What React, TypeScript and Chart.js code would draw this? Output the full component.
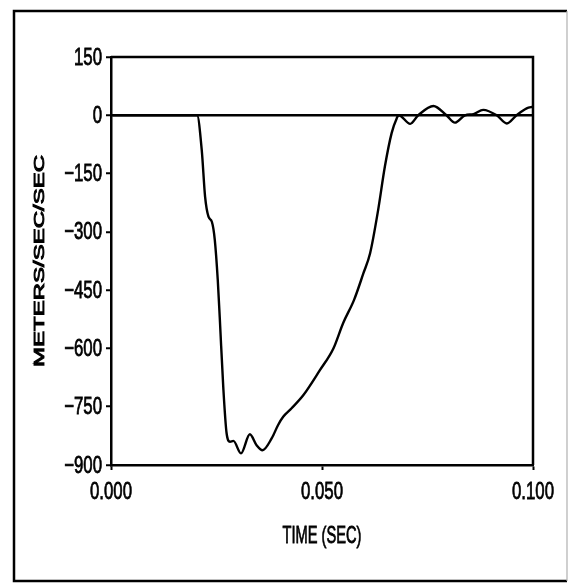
import React, { useEffect, useRef } from 'react';
import { Chart, registerables } from 'chart.js';

Chart.register(...registerables);

// Time (seconds)
const timeSec = [
  0, 0.0204, 0.0215, 0.0223, 0.0231, 0.0239, 0.0246, 0.0253, 0.0258, 0.0266,
  0.0274, 0.0282, 0.029, 0.0308, 0.0329, 0.0345, 0.0359, 0.0381, 0.0396, 0.0408,
  0.0428, 0.0456, 0.0495, 0.0527, 0.055, 0.0576, 0.0598, 0.0614, 0.0633, 0.0649,
  0.0665, 0.0677, 0.0682, 0.0709, 0.0728, 0.0764, 0.0795, 0.0815, 0.0839, 0.0859,
  0.0882, 0.0914, 0.0938, 0.0961, 0.0985, 0.1,
];

// Acceleration (meters/sec/sec)
const accel = [
  0, 0, -89, -210, -261, -274, -321, -424, -527, -699,
  -819, -840, -838, -870, -821, -849, -862, -831, -797, -776,
  -754, -720, -656, -600, -535, -475, -407, -355, -244, -132,
  -46, -8, 0, -22, 0, 24, 0, -19, 0, 3,
  14, 0, -21, 0, 18, 22,
];

const yTicks = [150, 0, -150, -300, -450, -600, -750, -900];
const yTickLabels = ['150', '0', '\u2212150', '\u2212300', '\u2212450', '\u2212600', '\u2212750', '\u2212900'];
const xTicks = [0, 0.05, 0.1];
const xTickLabels = ['0.000', '0.050', '0.100'];
const xTitle = 'TIME (SEC)';
const yTitle = 'METERS/SEC/SEC';

const SANS = "'Liberation Sans', Arial, sans-serif";

function drawText(ctx: any, text: string, x: number, y: number, sx: number, weight: number) {
  ctx.save();
  ctx.translate(x, y);
  ctx.scale(sx, 1);
  ctx.fillText(text, 0, 0);
  if (weight > 0) {
    ctx.lineWidth = weight;
    ctx.strokeStyle = '#000';
    ctx.strokeText(text, 0, 0);
  }
  ctx.restore();
}

const decorPlugin = {
  id: 'decor',
  afterDraw(chart: any) {
    const { ctx, chartArea, scales } = chart;
    ctx.save();
    // plot frame (top/right)
    ctx.strokeStyle = '#000';
    ctx.lineWidth = 2.5;
    ctx.beginPath();
    ctx.moveTo(chartArea.left, chartArea.top);
    ctx.lineTo(chartArea.right, chartArea.top);
    ctx.lineTo(chartArea.right, chartArea.bottom);
    ctx.stroke();

    // outer frame
    ctx.lineWidth = 2.5;
    ctx.beginPath();
    ctx.moveTo(567, 11);
    ctx.lineTo(14, 11);
    ctx.lineTo(14, 581);
    ctx.lineTo(567, 581);
    ctx.stroke();
    ctx.strokeStyle = '#b0b0b0';
    ctx.lineWidth = 1.2;
    ctx.beginPath();
    ctx.moveTo(567, 11);
    ctx.lineTo(567, 581);
    ctx.stroke();

    ctx.fillStyle = '#000';
    ctx.textBaseline = 'middle';
    ctx.font = `24px ${SANS}`;

    // y tick labels (condensed)
    ctx.textAlign = 'right';
    yTicks.forEach((v, i) => {
      const py = scales.y.getPixelForValue(v);
      drawText(ctx, yTickLabels[i], chartArea.left - 9, py + 1, 0.7, 0.8);
    });

    // x tick labels (condensed)
    ctx.textAlign = 'center';
    xTicks.forEach((v, i) => {
      const px = scales.x.getPixelForValue(v);
      drawText(ctx, xTickLabels[i], px, chartArea.bottom + 27, 0.7, 0.8);
    });

    // x title
    const cx = (chartArea.left + chartArea.right) / 2;
    drawText(ctx, xTitle, cx, 536, 0.61, 0.8);

    // y title (rotated, extended)
    const cy = (chartArea.top + chartArea.bottom) / 2;
    ctx.save();
    ctx.translate(40, cy);
    ctx.rotate(-Math.PI / 2);
    ctx.font = `15px ${SANS}`;
    drawText(ctx, yTitle, 0, 0, 1.6, 0.9);
    ctx.restore();

    ctx.restore();
  },
};

export default function App() {
  const ref = useRef<HTMLCanvasElement | null>(null);

  useEffect(() => {
    document.body.style.margin = '0';
    const canvas = ref.current;
    if (!canvas) return;
    const points = timeSec.map((t, i) => ({ x: t, y: accel[i] }));
    const chart = new Chart(canvas, {
      type: 'line',
      data: {
        datasets: [
          {
            data: points,
            borderColor: '#000',
            borderWidth: 2.4,
            pointRadius: 0,
            cubicInterpolationMode: 'monotone',
            fill: false,
          },
        ],
      },
      options: {
        responsive: false,
        animation: false,
        devicePixelRatio: 1,
        layout: { padding: { left: 0, top: 57, right: 36, bottom: 0 } },
        plugins: { legend: { display: false }, tooltip: { enabled: false } },
        scales: {
          x: {
            type: 'linear',
            min: 0,
            max: 0.1,
            afterFit: (s: any) => {
              s.height = 120;
            },
            afterBuildTicks: (s: any) => {
              s.ticks = xTicks.map((v) => ({ value: v }));
            },
            ticks: { display: false },
            grid: {
              drawOnChartArea: false,
              drawTicks: true,
              tickLength: 5,
              tickColor: '#000',
              tickWidth: 2,
            },
            border: { display: true, color: '#000', width: 2.5 },
          },
          y: {
            type: 'linear',
            min: -900,
            max: 150,
            afterFit: (s: any) => {
              s.width = 111;
            },
            afterBuildTicks: (s: any) => {
              s.ticks = yTicks.map((v) => ({ value: v }));
            },
            ticks: { display: false },
            grid: {
              color: (c: any) => (c.tick && c.tick.value === 0 ? '#000' : 'rgba(0,0,0,0)'),
              lineWidth: 2.5,
              drawTicks: true,
              tickLength: 5,
              tickColor: '#000',
              tickWidth: 2,
            },
            border: { display: true, color: '#000', width: 2.5 },
          },
        },
      },
      plugins: [decorPlugin],
    });
    return () => chart.destroy();
  }, []);

  return (
    <canvas
      ref={ref}
      width={569}
      height={585}
      style={{ position: 'fixed', left: 0, top: 0, width: 569, height: 585, background: '#fff' }}
    />
  );
}
